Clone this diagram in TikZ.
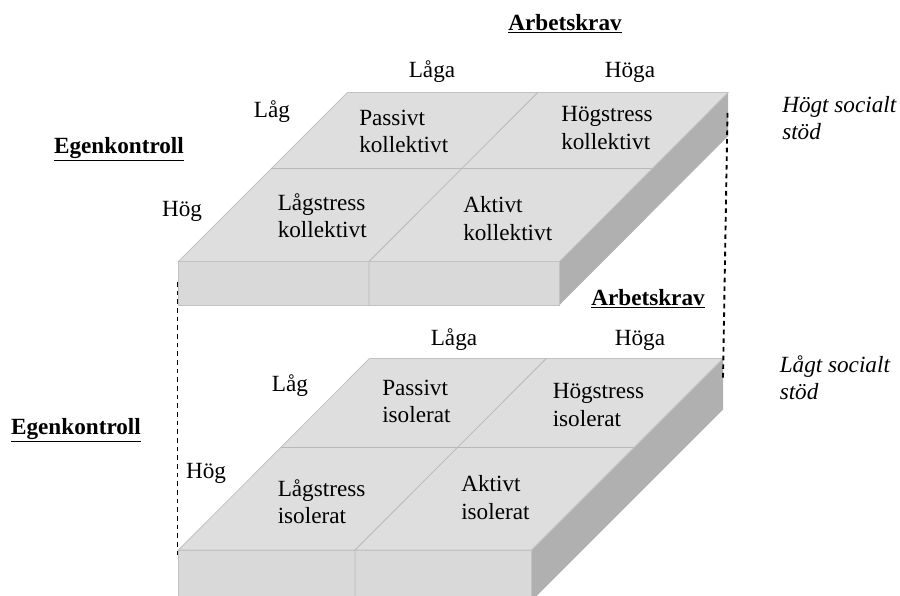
\documentclass[tikz,border=0pt]{standalone}
\usepackage{fontspec}
\setmainfont{Liberation Serif}
\usetikzlibrary{calc}

\begin{document}
\begin{tikzpicture}[x=0.75pt,y=-0.75pt,
    topface/.style={fill=black!13,draw=black!24,line width=0.6pt},
    frontface/.style={fill=black!15,draw=black!24,line width=0.6pt},
    sideface/.style={fill=black!31,draw=none},
    gridline/.style={draw=black!28,line width=0.6pt},
    lbl/.style={inner sep=0pt,font=\fontsize{17.4}{20.5}\selectfont},
    cell/.style={lbl,align=left,anchor=west},
    head/.style={inner sep=0pt,font=\fontsize{17.4}{20.5}\selectfont\bfseries},
    support/.style={cell,font=\fontsize{17.4}{20.5}\selectfont\itshape},
    link/.style={dash pattern=on 3.5pt off 3pt,line width=1.4pt}]
    \clip (0,0) rectangle (900,596);
    % upper slab: high social support
    \coordinate (uBL) at (347.5,92.5);
    \coordinate (uBR) at (728,92.5);
    \coordinate (uFL) at (178.5,261.5);
    \coordinate (uFR) at (559.5,261.5);
    \fill[sideface] (uFR) -- (uBR) -- ($(uBR)+(0,43.5)$) -- ($(uFR)+(0,43.5)$) -- cycle;
    \draw[frontface] (uFL) rectangle ($(uFR)+(0,43.5)$);
    \draw[topface] (uFL) -- (uBL) -- (uBR) -- (uFR) -- cycle;
    \draw[gridline] ($(uBL)!0.45!(uFL)$) -- ($(uBR)!0.45!(uFR)$);
    \draw[gridline] ($(uBL)!0.5!(uBR)$) -- ($(uFL)!0.5!(uFR)$) -- ++(0,43.5);
    % lower slab: low social support
    \coordinate (lBL) at (369.5,358.5);
    \coordinate (lBR) at (723,358.5);
    \coordinate (lFL) at (178.5,550);
    \coordinate (lFR) at (531.5,550);
    \fill[sideface] (lFR) -- (lBR) -- ($(lBR)+(0,51)$) -- ($(lFR)+(0,51)$) -- cycle;
    \draw[frontface] (lFL) rectangle ($(lFR)+(0,51)$);
    \draw[topface] (lFL) -- (lBL) -- (lBR) -- (lFR) -- cycle;
    \draw[gridline] ($(lBL)!0.464!(lFL)$) -- ($(lBR)!0.464!(lFR)$);
    \draw[gridline] ($(lBL)!0.5!(lBR)$) -- ($(lFL)!0.5!(lFR)$) -- ++(0,51);
    % dashed links between the slabs
    \coordinate (linkL1) at (177.5,282);
    \coordinate (linkL2) at (177.5,558);
    \coordinate (linkR1) at (727.5,113);
    \coordinate (linkR2) at (723,378);
    \draw[link] (linkL1) -- (linkL2);
    \draw[link] (linkR1) -- (linkR2);
    % upper labels
    \node[head] (demandU) at (565,24) {\underline{Arbetskrav}};
    \node[lbl] (lowDU) at (432,72) {Låga};
    \node[lbl] (highDU) at (630,72) {Höga};
    \node[head] (controlU) at (119,149) {\underline{Egenkontroll}};
    \node[lbl] (lowCU) at (272,112) {Låg};
    \node[lbl] (highCU) at (182,211) {Hög};
    \node[cell] (passU) at (359,131.5) {Passivt\\kollektivt};
    \node[cell] (strainU) at (561,128) {Högstress\\kollektivt};
    \node[cell] (relaxU) at (277.5,215.5) {Lågstress\\kollektivt};
    \node[cell] (activeU) at (463,218.5) {Aktivt\\kollektivt};
    \node[support] (supportU) at (782,118) {Högt socialt\\stöd};
    % lower labels
    \node[head] (demandL) at (648,298.5) {\underline{Arbetskrav}};
    \node[lbl] (lowDL) at (454,340) {Låga};
    \node[lbl] (highDL) at (640,340) {Höga};
    \node[head] (controlL) at (76,430) {\underline{Egenkontroll}};
    \node[lbl] (lowCL) at (290,386) {Låg};
    \node[lbl] (highCL) at (206,473) {Hög};
    \node[cell] (passL) at (382,401.5) {Passivt\\isolerat};
    \node[cell] (strainL) at (552.5,405) {Högstress\\isolerat};
    \node[cell] (relaxL) at (277.5,501.5) {Lågstress\\isolerat};
    \node[cell] (activeL) at (461,497.5) {Aktivt\\isolerat};
    \node[support] (supportL) at (779.5,377.5) {Lågt socialt\\stöd};
\end{tikzpicture}
\end{document}
